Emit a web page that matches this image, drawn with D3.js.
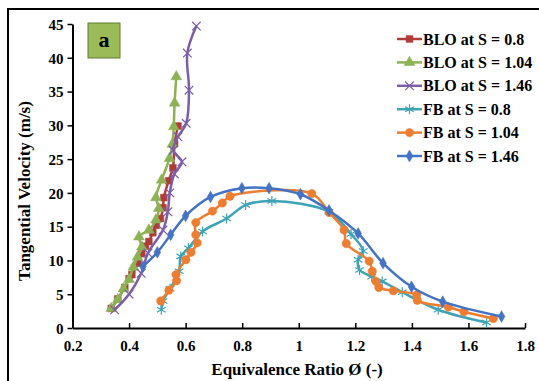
<!DOCTYPE html>
<html><head><meta charset="utf-8">
<script src="https://cdn.jsdelivr.net/npm/d3@7"></script>
<style>body{margin:0;background:#fff}svg{display:block}
text{font-family:"Liberation Serif","Times New Roman","DejaVu Serif",serif;font-weight:bold}</style>
</head><body><svg id="c" width="539" height="381"></svg>
<script>
const xTicks = [0.2,0.4,0.6,0.8,1,1.2,1.4,1.6,1.8];
const yTicks = [0,5,10,15,20,25,30,35,40,45];
const seriesNames = ["BLO at S = 0.8","BLO at S = 1.04","BLO at S = 1.46","FB at S = 0.8","FB at S = 1.04","FB at S = 1.46"];
const bloS08 = [[0.337,2.9],[0.36,4.3],[0.385,6.0],[0.40,7.3],[0.41,7.9],[0.432,9.6],[0.445,11.0],[0.458,12.1],[0.47,12.8],[0.484,14.1],[0.496,15.2],[0.511,16.2],[0.52,17.8],[0.523,19.3],[0.54,21.8],[0.555,23.7],[0.561,27.3],[0.573,29.9]];
const bloS104 = [[0.337,2.9],[0.36,4.2],[0.38,5.8],[0.40,7.2],[0.415,9.0],[0.43,10.5],[0.445,12.0],[0.435,13.5],[0.47,14.5],[0.495,16.0],[0.505,17.7],[0.495,19.3],[0.515,21.9],[0.543,25.1],[0.553,27.2],[0.558,29.8],[0.561,33.3],[0.567,37.2]];
const bloS146 = [[0.349,2.7],[0.40,5.0],[0.443,8.1],[0.467,11.1],[0.52,14.5],[0.537,17.2],[0.544,20.0],[0.56,22.8],[0.587,24.6],[0.556,26.3],[0.573,28.3],[0.602,30.3],[0.612,35.2],[0.606,40.7],[0.638,44.7]];
const fbS08 = [[0.514,2.7],[0.52,4.0],[0.545,5.8],[0.577,8.4],[0.583,10.6],[0.61,11.8],[0.66,14.3],[0.745,16.2],[0.812,18.2],[0.905,18.8],[1.107,17.2],[1.185,13.9],[1.228,11.4],[1.21,10.1],[1.215,8.6],[1.258,7.6],[1.295,6.9],[1.366,5.3],[1.493,2.7],[1.664,0.8]];
const fbS104 = [[0.512,4.0],[0.541,5.6],[0.568,7.0],[0.566,7.9],[0.601,10.1],[0.619,11.2],[0.641,12.6],[0.636,13.8],[0.636,15.6],[0.695,17.3],[0.73,18.5],[0.757,19.5],[1.046,19.9],[1.107,17.1],[1.16,14.5],[1.168,12.5],[1.249,9.9],[1.26,8.4],[1.273,6.9],[1.283,6.0],[1.334,5.5],[1.417,4.9],[1.419,4.1],[1.529,3.1],[1.584,2.4],[1.688,1.4]];
const fbS146 = [[0.449,9.1],[0.50,11.2],[0.547,13.8],[0.60,16.6],[0.688,19.4],[0.799,20.7],[0.895,20.7],[1.006,19.8],[1.107,17.4],[1.21,14.0],[1.298,9.6],[1.399,6.1],[1.509,3.9],[1.717,1.7]];

const allSeries = [bloS08, bloS104, bloS146, fbS08, fbS104, fbS146];
const colors = ["#B03C3A","#8DB255","#7B5EA7","#3EA4B5","#ED7D31","#4472C4"];
const symbols = [
  {t:d3.symbolSquare,s:46,fill:true},
  {t:d3.symbolTriangle,s:50,fill:true},
  {t:d3.symbolX,s:50,fill:false},
  {t:d3.symbolAsterisk,s:70,fill:false},
  {t:d3.symbolCircle,s:55,fill:true},
  {t:d3.symbolDiamond,s:40,fill:true}
];

const svg = d3.select("#c");
const x = d3.scaleLinear().domain([0.2,1.8]).range([72.5,525]);
const y = d3.scaleLinear().domain([0,45]).range([328,24]);

// outer frame
svg.append("rect").attr("x",8).attr("y",9).attr("width",700).attr("height",600)
  .attr("fill","none").attr("stroke","#000").attr("stroke-width",2);

// axes
const xa = svg.append("g").attr("transform","translate(0,328)")
  .call(d3.axisBottom(x).tickValues(xTicks).tickSize(-5).tickSizeOuter(0).tickFormat(d=>d3.format("")(d)).tickPadding(12));
const ya = svg.append("g").attr("transform","translate(72.5,0)")
  .call(d3.axisLeft(y).tickValues(yTicks).tickSize(5).tickSizeOuter(0).tickPadding(4));
[xa,ya].forEach(g=>{
  g.attr("font-family",null);
  g.select(".domain").attr("stroke","#000").attr("stroke-width",2);
  g.selectAll(".tick line").attr("stroke","#000").attr("stroke-width",1.5);
  g.selectAll("text").style("font-size","15px").attr("fill","#000");
});
ya.selectAll("text").attr("dy","0.35em");

// axis titles
svg.append("text").attr("x",297).attr("y",375).attr("text-anchor","middle")
  .style("font-size","17px").text("Equivalence Ratio Ø (-)");
svg.append("text").attr("transform","translate(30,191) rotate(-90)").attr("text-anchor","middle")
  .style("font-size","17px").text("Tangential Velocity (m/s)");

// series
const line = d3.line().x(d=>x(d[0])).y(d=>y(d[1])).curve(d3.curveCatmullRom.alpha(0.5));
allSeries.forEach((data,i)=>{
  const g = svg.append("g");
  g.append("path").attr("d",line(data)).attr("fill","none").attr("stroke",colors[i]).attr("stroke-width",2.5);
  const sym = d3.symbol().type(symbols[i].t).size(symbols[i].s);
  g.selectAll("path.m").data(data).join("path").attr("class","m")
    .attr("transform",d=>`translate(${x(d[0])},${y(d[1])})`).attr("d",sym())
    .attr("fill",symbols[i].fill?colors[i]:"none").attr("stroke",colors[i]).attr("stroke-width",symbols[i].fill?0.5:1.2);
});

// "a" label
svg.append("rect").attr("x",88).attr("y",23).attr("width",32).attr("height",35)
  .attr("fill","#9BBB59").attr("stroke","#5E7F35").attr("stroke-width",1);
svg.append("text").attr("x",104).attr("y",47).attr("text-anchor","middle")
  .style("font-size","22px").text("a");

// legend
seriesNames.forEach((name,i)=>{
  const ly = 39 + i*23.4;
  const g = svg.append("g");
  g.append("line").attr("x1",397).attr("x2",422).attr("y1",ly).attr("y2",ly).attr("stroke",colors[i]).attr("stroke-width",2.5);
  g.append("path").attr("transform",`translate(409.5,${ly})`).attr("d",d3.symbol().type(symbols[i].t).size(symbols[i].s)())
    .attr("fill",symbols[i].fill?colors[i]:"none").attr("stroke",colors[i]).attr("stroke-width",symbols[i].fill?0.5:1.2);
  g.append("text").attr("x",423).attr("y",ly).attr("dy","0.35em")
    .style("font-size","16px").text(name);
});
</script></body></html>
